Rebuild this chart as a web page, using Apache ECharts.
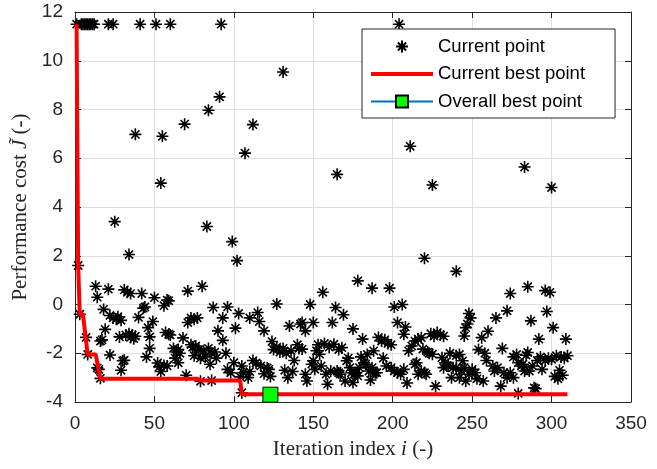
<!DOCTYPE html>
<html>
<head>
<meta charset="utf-8">
<script src="https://cdn.jsdelivr.net/npm/echarts@6/dist/echarts.min.js"></script>
<style>
  html, body { margin: 0; padding: 0; background: #fff; }
  #container { width: 657px; height: 469px; }
</style>
</head>
<body>
<div id="container"></div>
<script>
// x ticks / y ticks
let xTicks = [0, 50, 100, 150, 200, 250, 300, 350];
let yTicks = [-4, -2, 0, 2, 4, 6, 8, 10, 12];

// current point: [iteration, cost]
let currentPoints = [
  [1, 11.5], [4, 11.5], [5, 11.5], [6, 11.5], [7, 11.5], [8, 11.5], [9, 11.5], [10, 11.5],
  [11, 11.5], [12, 11.5], [21, 11.5], [24, 11.5], [41, 11.5], [51, 11.5], [60, 11.5], [92, 11.5], [204, 11.5],
  [38, 6.98], [54, 4.98], [55, 6.9], [69, 7.4], [84, 7.97], [91, 8.52], [107, 6.21], [112, 7.38],
  [131, 9.54], [165, 5.34], [211, 6.49], [225, 4.9], [283, 5.64], [300, 4.8],
  [25, 3.4], [34, 2.05], [83, 3.2], [99, 2.58], [102, 1.8], [2, 1.6], [220, 1.9], [240, 1.36],
  [13, 0.75], [14, 0.3], [21, 0.63], [31, 0.6], [33, 0.5], [35, 0.45], [42, 0.45], [50, 0.28],
  [59, 0.15], [71, 0.55], [80, 0.75], [127, 0.02], [148, 0.0], [156, 0.5], [178, 0.97], [187, 0.67],
  [198, 0.67], [201, -0.1], [206, 0.0], [274, 0.45], [285, 0.73], [296, 0.57], [299, 0.5], [56, -0.05], [58, 0.18],
  [3, -0.4], [18, -0.2], [22, -0.45], [24, -0.55], [26, -0.6], [27, -0.5], [29, -0.65], [40, -0.53],
  [43, -0.15], [44, -0.1], [46, -0.95], [49, -0.7], [71, -0.74], [73, -0.55], [75, -0.6], [77, -0.55],
  [87, -0.12], [93, -0.55], [96, -0.1], [101, -0.97], [103, -0.37], [110, -0.55], [115, -0.33], [116, -0.7],
  [119, -1.08], [135, -0.88], [142, -0.8], [143, -0.74], [145, -1.08], [150, -0.74], [162, -0.74], [164, -0.12],
  [169, -0.42], [175, -1.0], [203, -0.74], [208, -0.92], [248, -0.37], [249, -0.55], [247, -0.8], [246, -0.95],
  [265, -0.55], [272, -0.26], [287, -0.67], [297, -0.29], [301, -0.95], [90, -1.08],
  [7, -1.35], [16, -1.5], [17, -1.45], [19, -1.02], [28, -1.33], [32, -1.25], [34, -1.2], [35, -1.35],
  [36, -1.25], [37, -1.4], [38, -1.3], [47, -1.33], [57, -1.15], [59, -1.22], [60, -1.25], [68, -1.37],
  [47, -1.8], [62, -1.8], [64, -1.95], [65, -1.85], [66, -2.0], [73, -1.65], [74, -1.75], [76, -1.7],
  [78, -1.85], [81, -1.9], [84, -1.8], [86, -2.0], [88, -1.95], [93, -1.47], [95, -2.0], [124, -1.52],
  [125, -1.85], [127, -1.75], [129, -1.95], [131, -1.8], [133, -2.0], [136, -1.9], [140, -1.65], [141, -1.8],
  [143, -1.83], [152, -1.9], [153, -1.65], [157, -1.6], [160, -1.75], [163, -1.63], [166, -1.85], [168, -1.77],
  [181, -1.42], [184, -2.05], [188, -1.9], [191, -1.35], [193, -1.5], [195, -1.45], [197, -1.6], [199, -1.65],
  [207, -1.22], [210, -1.9], [212, -1.7], [214, -1.5], [216, -1.42], [218, -1.36], [219, -1.83], [222, -1.95],
  [224, -1.2], [226, -1.3], [228, -1.15], [230, -1.25], [232, -1.3], [245, -1.29], [256, -1.36], [260, -1.1],
  [269, -1.8], [285, -1.97], [292, -1.42], [309, -1.42], [254, -1.85], [258, -2.0], [236, -2.0], [240, -2.1], [242, -2.05],
  [8, -2.05], [14, -2.6], [15, -2.66], [16, -3.03], [22, -2.07], [29, -2.7], [30, -2.31], [31, -2.29],
  [45, -2.15], [52, -2.4], [53, -2.56], [54, -2.75], [56, -2.5], [58, -2.52], [63, -2.2], [65, -2.39],
  [70, -2.9], [75, -2.1], [79, -2.2], [82, -2.15], [85, -2.45], [79, -3.15], [86, -3.12], [89, -2.2],
  [96, -2.66], [98, -2.8], [100, -2.39], [105, -2.52], [106, -2.8], [104, -2.97], [105, -3.62], [109, -3.0],
  [110, -2.75], [112, -2.3], [114, -2.4], [117, -2.52], [119, -2.84], [121, -2.6], [122, -2.66], [123, -2.95],
  [132, -2.7], [134, -3.0], [137, -2.75], [138, -2.3], [145, -2.86], [146, -3.14], [149, -2.45], [150, -2.31],
  [151, -2.66], [154, -2.04], [155, -2.52], [158, -2.86], [159, -3.27], [161, -2.73], [165, -2.73], [166, -2.8],
  [167, -2.86], [170, -3.14], [171, -2.31], [172, -2.2], [173, -2.59], [174, -2.8], [175, -3.2], [176, -2.86],
  [177, -2.8], [178, -2.93], [179, -2.59], [180, -2.15], [182, -2.39], [183, -2.45], [185, -2.73], [186, -3.1],
  [187, -2.59], [189, -2.8], [190, -2.8], [194, -2.2], [196, -2.52], [199, -2.59], [201, -2.73], [203, -2.8],
  [205, -2.86], [207, -2.66], [209, -3.22], [214, -2.45], [215, -2.39], [216, -2.86], [218, -2.73], [220, -2.8],
  [221, -2.86], [223, -2.0], [225, -2.04], [227, -3.35], [231, -2.18], [232, -2.59], [233, -2.39], [234, -2.5],
  [235, -2.52], [237, -3.0], [238, -2.59], [240, -2.6], [242, -3.0], [243, -2.73], [244, -2.31], [245, -2.59],
  [246, -3.14], [248, -2.86], [250, -2.66], [252, -2.8], [253, -3.05], [257, -3.14], [259, -2.3], [263, -2.52],
  [264, -2.73], [266, -2.59], [268, -3.35], [270, -2.8], [272, -3.0], [274, -2.8], [276, -3.0], [276, -2.15],
  [278, -2.05], [279, -2.39], [279, -3.65], [281, -2.52], [282, -2.45], [283, -2.73], [284, -2.08], [286, -2.73],
  [288, -2.52], [289, -3.42], [290, -3.45], [291, -2.3], [293, -2.15], [294, -2.66], [296, -2.3], [298, -2.2],
  [300, -2.25], [302, -2.95], [303, -2.1], [304, -3.05], [305, -2.7], [306, -2.15], [307, -2.9], [308, -2.2], [310, -2.1]
];

// current best (running best) step points
let bestIter = [1, 2, 3, 5, 8, 13, 16, 77, 79, 104, 105, 310];
let bestCost = [11.5, 1.6, -0.4, -0.4, -2.05, -2.05, -3.05, -3.05, -3.12, -3.12, -3.68, -3.68];

// overall best
let overallBest = [[123, -3.7]];

let seriesNames = ['Current point', 'Current best point', 'Overall best point'];

var dom = document.getElementById('container');
var myChart = echarts.init(dom, null, { renderer: 'canvas' });

const axisColor = '#262626';
const tickFont = 'Liberation Sans';
const asterisk = 'path://M5 0L5 10M0 5L10 5M1.6 1.6L8.4 8.4M1.6 8.4L8.4 1.6';

function boxAxis(position, min, max, interval) {
  return {
    type: 'value', position: position, min: min, max: max, interval: interval,
    axisLine: { show: true, onZero: false, lineStyle: { color: axisColor, width: 1 } },
    axisTick: { show: true, inside: true, length: 6, lineStyle: { color: axisColor } },
    axisLabel: { show: false },
    splitLine: { show: false }
  };
}

var option = {
  animation: false,
  backgroundColor: '#fff',
  grid: { left: 75, right: 26, top: 12, bottom: 67 },
  legend: {
    orient: 'vertical',
    left: 362, top: 29,
    padding: [8, 30, 7, 7],
    itemGap: 8.5,
    itemWidth: 62,
    itemHeight: 15,
    borderColor: axisColor,
    borderWidth: 1,
    backgroundColor: '#fff',
    textStyle: { fontFamily: tickFont, fontSize: 18.5, color: '#000' },
    data: [
      seriesNames[0],
      { name: seriesNames[1], itemStyle: { opacity: 0 }, lineStyle: { width: 4 } },
      seriesNames[2]
    ]
  },
  xAxis: [
    {
      type: 'value', min: 0, max: 350, interval: 50,
      axisLine: { onZero: false, lineStyle: { color: axisColor, width: 1 } },
      axisTick: { inside: true, length: 6, lineStyle: { color: axisColor } },
      axisLabel: { fontFamily: tickFont, fontSize: 19, color: axisColor, margin: 12,
        formatter: v => xTicks.includes(v) ? String(v) : '' },
      splitLine: { show: true, lineStyle: { color: '#dfdfdf', width: 1 } },
      name: 'Iteration index {i|i} (-)',
      nameLocation: 'middle',
      nameGap: 37,
      nameTextStyle: {
        fontFamily: 'Liberation Serif', fontSize: 21, color: axisColor,
        rich: { i: { fontFamily: 'Liberation Serif', fontStyle: 'italic', fontSize: 21, color: axisColor } }
      }
    },
    boxAxis('top', 0, 350, 50)
  ],
  yAxis: [
    {
      type: 'value', min: -4, max: 12, interval: 2,
      axisLine: { show: true, onZero: false, lineStyle: { color: axisColor, width: 1 } },
      axisTick: { show: true, inside: true, length: 6, lineStyle: { color: axisColor } },
      axisLabel: { fontFamily: tickFont, fontSize: 19, color: axisColor, margin: 12,
        formatter: v => yTicks.includes(v) ? String(v) : '' },
      splitLine: { show: true, lineStyle: { color: '#dfdfdf', width: 1 } },
      name: 'Performance cost {j|J\u0303} (-)',
      nameLocation: 'middle',
      nameGap: 44,
      nameTextStyle: {
        fontFamily: 'Liberation Serif', fontSize: 21, color: axisColor,
        rich: { j: { fontFamily: 'Liberation Serif', fontStyle: 'italic', fontSize: 21, color: axisColor } }
      }
    },
    boxAxis('right', -4, 12, 2)
  ],
  series: [
    {
      name: seriesNames[0],
      type: 'line',
      data: currentPoints,
      symbol: asterisk,
      symbolSize: 12,
      showAllSymbol: true,
      lineStyle: { width: 0, opacity: 0 },
      itemStyle: { color: '#000', borderColor: '#000', borderWidth: 1.6 },
      z: 2
    },
    {
      name: seriesNames[1],
      type: 'line',
      data: bestIter.map((it, k) => [it, bestCost[k]]),
      symbol: 'none',
      lineStyle: { color: '#ff0000', width: 4 },
      itemStyle: { color: '#ff0000' },
      z: 3
    },
    {
      name: seriesNames[2],
      type: 'line',
      data: overallBest,
      symbol: 'rect',
      symbolSize: 15,
      lineStyle: { color: '#0072BD', width: 1 },
      itemStyle: { color: '#00ff00', borderColor: '#000', borderWidth: 1 },
      z: 4
    }
  ]
};

myChart.setOption(option);
window.addEventListener('resize', myChart.resize);
</script>
</body>
</html>
